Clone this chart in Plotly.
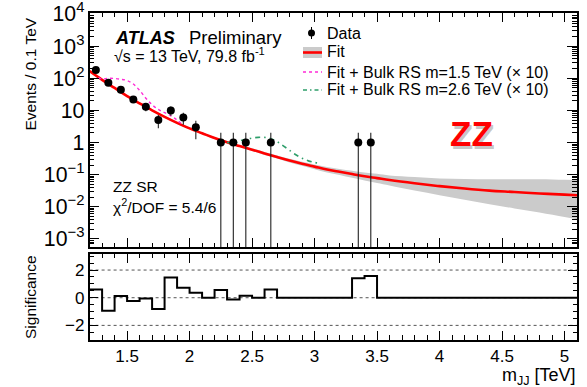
import numpy as np
import plotly.graph_objects as go

W, H = 587, 387

# Observed events per 0.1 TeV bin (bin centres, TeV)
mjj_data = [1.25, 1.35, 1.45, 1.55, 1.65, 1.75, 1.85, 1.95, 2.05,
            2.25, 2.35, 2.45, 2.65, 3.35, 3.45]
events = [180, 72, 44, 22, 13, 5, 10, 6, 3, 1, 1, 1, 1, 1, 1]

# Background fit and its uncertainty band
fit_x = [1.2, 1.3, 1.4, 1.5, 1.6, 1.7, 1.8, 1.9, 2.0, 2.1, 2.2, 2.3, 2.4, 2.5,
         2.6, 2.7, 2.8, 2.9, 3.0, 3.1, 3.2, 3.3, 3.4, 3.5, 3.6, 3.8, 4.0, 4.2,
         4.4, 4.6, 4.8, 5.0, 5.1]
fit_y = [166, 89, 50, 28, 16.6, 10.0, 6.3, 4.1, 2.75, 1.95, 1.38, 1.02, 0.78,
         0.60, 0.46, 0.355, 0.275, 0.219, 0.178, 0.145, 0.123, 0.105, 0.089,
         0.078, 0.068, 0.054, 0.044, 0.037, 0.032, 0.029, 0.026, 0.024, 0.023]
band_hi = [178, 95.5, 53.7, 30.2, 17.8, 10.7, 6.76, 4.37, 2.95, 2.09, 1.48,
           1.10, 0.832, 0.661, 0.507, 0.398, 0.313, 0.251, 0.209, 0.174, 0.151,
           0.133, 0.117, 0.106, 0.095, 0.085, 0.076, 0.074, 0.072, 0.072,
           0.072, 0.069, 0.068]
band_lo = [155, 83, 46.8, 26.3, 15.5, 9.33, 5.89, 3.80, 2.57, 1.82, 1.29,
           0.955, 0.724, 0.550, 0.412, 0.316, 0.240, 0.188, 0.148, 0.117,
           0.098, 0.080, 0.066, 0.055, 0.046, 0.032, 0.023, 0.0166, 0.012,
           0.0089, 0.0066, 0.0048, 0.0041]

# Fit + Bulk RS graviton signals (x 10)
rs15_x = [1.27, 1.3, 1.35, 1.4, 1.45, 1.5, 1.55, 1.6, 1.65, 1.7, 1.75, 1.8,
          1.85, 1.9, 1.95]
rs15_y = [105, 95, 100, 98, 93, 85, 66, 42, 24, 15, 10.7, 8.5, 6.8, 5.0, 3.4]
rs26_x = [2.3, 2.35, 2.4, 2.45, 2.5, 2.55, 2.6, 2.65, 2.7, 2.75, 2.8, 2.85,
          2.9, 2.95, 3.0, 3.05]
rs26_y = [1.02, 0.95, 1.12, 1.26, 1.38, 1.45, 1.45, 1.32, 1.07, 0.79, 0.575,
          0.417, 0.324, 0.269, 0.240, 0.224]

# Per-bin significance
sig_edges = [1.2, 1.3, 1.4, 1.5, 1.6, 1.7, 1.8, 1.9, 2.0, 2.1, 2.2, 2.3, 2.4,
             2.5, 2.6, 2.7, 2.8, 2.9, 3.0, 3.1, 3.2, 3.3, 3.4, 3.5, 5.1]
significance = [0.6, -0.94, 0.12, -0.24, -0.05, -0.82, 1.47, 0.72, 0.36, 0.0,
                0.55, -0.12, 0.14, 0.0, 0.6, 0, 0, 0, 0, 0, 0, 1.4, 1.57, 0]

FONT = "Liberation Sans, Arial, Helvetica, sans-serif"
MAGENTA = "#ff2bd6"
GREEN = "#2e9e6a"


def px(x):
    return x / W


def py(y):
    return 1 - y / H


n = np.array(events, dtype=float)
err_up = np.sqrt(n)
err_dn = np.minimum(np.sqrt(n), n - 1e-5)

fig = go.Figure()

# uncertainty band
fig.add_trace(go.Scatter(x=fit_x, y=band_lo, mode="lines", line=dict(width=0, shape="spline"),
                         hoverinfo="skip", showlegend=False, xaxis="x", yaxis="y"))
fig.add_trace(go.Scatter(x=fit_x, y=band_hi, mode="lines", line=dict(width=0, shape="spline"),
                         fill="tonexty", fillcolor="#cbcbcb", hoverinfo="skip",
                         showlegend=False, xaxis="x", yaxis="y"))
# fit
fig.add_trace(go.Scatter(x=fit_x, y=fit_y, mode="lines",
                         line=dict(color="#ff0000", width=2.6, shape="spline"),
                         showlegend=False, xaxis="x", yaxis="y"))
# signals
fig.add_trace(go.Scatter(x=rs15_x, y=rs15_y, mode="lines",
                         line=dict(color=MAGENTA, width=1.4, dash="3px,3px", shape="spline"),
                         showlegend=False, xaxis="x", yaxis="y"))
fig.add_trace(go.Scatter(x=rs26_x, y=rs26_y, mode="lines",
                         line=dict(color=GREEN, width=1.6, dash="5px,4px,1.5px,4px", shape="spline"),
                         showlegend=False, xaxis="x", yaxis="y"))
# data
fig.add_trace(go.Scatter(x=mjj_data, y=events, mode="markers",
                         marker=dict(color="black", size=8),
                         error_y=dict(type="data", array=err_up, arrayminus=err_dn,
                                      symmetric=False, color="#222222", thickness=1.1, width=0),
                         showlegend=False, xaxis="x", yaxis="y"))

# significance histogram
fig.add_trace(go.Scatter(x=sig_edges, y=significance + [significance[-1]], mode="lines",
                         line=dict(color="black", width=2, shape="hv"),
                         showlegend=False, xaxis="x2", yaxis="y2"))

x_dom = [px(89.6), px(577)]
axis_common = dict(showline=True, linecolor="black", linewidth=1.5, mirror="allticks",
                   ticks="inside", tickcolor="black", showgrid=False, zeroline=False,
                   ticklabeloverflow="allow", automargin=False)

fig.update_layout(
    width=W, height=H, margin=dict(l=0, r=0, t=0, b=0, autoexpand=False),
    paper_bgcolor="white", plot_bgcolor="white",
    font=dict(family=FONT, color="black", size=17),
    xaxis=dict(domain=x_dom, anchor="y", range=[1.2, 5.1], tickmode="linear",
               tick0=0, dtick=0.5, ticklen=9, showticklabels=False,
               minor=dict(dtick=0.1, ticklen=4.5, ticks="inside", tickcolor="black"),
               **axis_common),
    yaxis=dict(domain=[py(247), py(13)], anchor="x", type="log", range=[-3.25, 4.03],
               tickmode="linear", tick0=0, dtick=1, exponentformat="power", ticklen=10,
               minor=dict(dtick="D1", ticklen=5, ticks="inside", tickcolor="black"),
               tickfont=dict(size=17), **axis_common),
    xaxis2=dict(domain=x_dom, anchor="y2", range=[1.2, 5.1], tickmode="linear",
                tick0=0, dtick=0.5, ticklen=9, tickfont=dict(size=17),
                minor=dict(dtick=0.1, ticklen=4.5, ticks="inside", tickcolor="black"),
                **axis_common),
    yaxis2=dict(domain=[py(339.5), py(254)], anchor="x2", range=[-3.02, 3.16],
                tickmode="array", tickvals=[-2, 0, 2], ticklen=9, tickfont=dict(size=17),
                minor=dict(tickvals=[-3, -2.5, -1.5, -1, -0.5, 0.5, 1, 1.5, 2.5, 3],
                           ticklen=4.5, ticks="inside", tickcolor="black"),
                **axis_common),
)

# dotted reference lines in the significance panel
for yv in (-2, 0, 2):
    fig.add_shape(type="line", xref="x2", yref="y2", x0=1.2, x1=5.1, y0=yv, y1=yv,
                  line=dict(color="#555555", width=1, dash="dot"), layer="below")

annots = []


def text(x, y, s, size, xanchor="left", **kw):
    annots.append(dict(x=px(x), y=py(y), xref="paper", yref="paper", text=s,
                       showarrow=False, xanchor=xanchor, yanchor="middle",
                       font=dict(family=FONT, size=size, color=kw.pop("color", "black")), **kw))


text(113, 38, "<b><i>ATLAS</i></b>", 18)
text(187, 38, "Preliminary", 18.5)
text(112, 55, "√s = 13 TeV, 79.8 fb<sup>-1</sup>", 16)
text(111, 186, "ZZ SR", 15.5)
text(111, 206, "χ<sup>2</sup>/DOF = 5.4/6", 15.5)

# legend
text(325, 33, "Data", 16)
text(325, 52, "Fit", 16)
text(325, 72, "Fit + Bulk RS m=1.5 TeV (× 10)", 16)
text(325, 90, "Fit + Bulk RS m=2.6 TeV (× 10)", 16)

# big channel label with a soft shadow
text(473.5, 136, "<b>ZZ</b>", 35, xanchor="center", color="rgba(0,0,0,0.22)")
text(471, 133.5, "<b>ZZ</b>", 35, xanchor="center", color="#ff0000")

# axis titles (rotated, anchored by their top end)
annots.append(dict(x=px(30), y=py(16), xref="paper", yref="paper", text="Events / 0.1 TeV",
                   textangle=-90, showarrow=False, xanchor="center", yanchor="top",
                   font=dict(family=FONT, size=15.5)))
annots.append(dict(x=px(30), y=py(253), xref="paper", yref="paper", text="Significance",
                   textangle=-90, showarrow=False, xanchor="center", yanchor="top",
                   font=dict(family=FONT, size=15.5)))
annots.append(dict(x=px(578), y=py(376), xref="paper", yref="paper",
                   text="m<sub>JJ</sub> [TeV]", showarrow=False, xanchor="right",
                   yanchor="middle", font=dict(family=FONT, size=18)))
fig.update_layout(annotations=annots)

# legend symbols
fig.add_shape(type="line", xref="paper", yref="paper", x0=px(311.5), x1=px(311.5),
              y0=py(27), y1=py(39), line=dict(color="black", width=1))
fig.add_shape(type="circle", xref="paper", yref="paper", x0=px(308), x1=px(315),
              y0=py(29.5), y1=py(36.5), fillcolor="black", line=dict(width=0))
fig.add_shape(type="rect", xref="paper", yref="paper", x0=px(303), x1=px(322),
              y0=py(47), y1=py(58), fillcolor="#cbcbcb", line=dict(width=0))
fig.add_shape(type="line", xref="paper", yref="paper", x0=px(303), x1=px(322),
              y0=py(52.5), y1=py(52.5), line=dict(color="#ff0000", width=2.6))
fig.add_shape(type="line", xref="paper", yref="paper", x0=px(303), x1=px(322),
              y0=py(72), y1=py(72), line=dict(color=MAGENTA, width=1.4, dash="3px,3px"))
fig.add_shape(type="line", xref="paper", yref="paper", x0=px(303), x1=px(322),
              y0=py(90), y1=py(90), line=dict(color=GREEN, width=1.6, dash="4px,3px,1.5px,3px"))

fig.write_html("out.html")
